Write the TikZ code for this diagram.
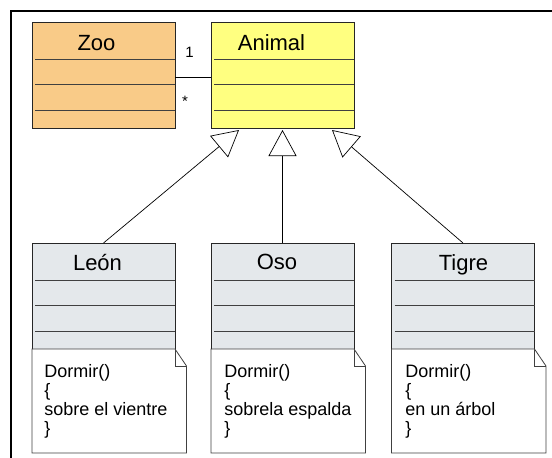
\documentclass[tikz,border=0pt]{standalone}
\usepackage{fontspec}
\setmainfont{Liberation Sans}
\usetikzlibrary{arrows.meta}
\definecolor{zoofill}{HTML}{F9CB88}
\definecolor{animalfill}{HTML}{FFFF80}
\definecolor{kindfill}{HTML}{E4E8EB}

\begin{document}
\begin{tikzpicture}[x=1pt, y=-1pt, line width=0.8pt,
  classbox/.style={draw=black!85, minimum width=143pt, minimum height=106pt, inner sep=0pt, outer sep=0pt},
  classname/.style={anchor=base, font=\fontsize{22}{26}\selectfont},
  slot/.style={draw=black!75, line width=0.9pt},
  notebody/.style={anchor=base west, align=left, inner sep=0pt, font=\fontsize{18}{19}\selectfont},
  inherit/.style={-{Triangle[open, length=26pt, width=28pt]}, line width=0.7pt}]
  \useasboundingbox (0,0) rectangle (552,458);
  % Frame
  \draw[line width=1.6pt] (11,458) -- (11,11) -- (552,11);
  % Upper classes
  \node[classbox, fill=zoofill] (zoo) at (103.5,75) {};
  \node[classname] (zooname) at (96.5,50.7) {Zoo};
  \node[classbox, fill=animalfill] (animal) at (282.5,75) {};
  \node[classname] (animalname) at (271.5,50.7) {Animal};
  % Lower classes
  \node[classbox, fill=kindfill] (leon) at (103.5,296) {};
  \node[classname] (leonname) at (97.5,270.5) {León};
  \node[classbox, fill=kindfill] (oso) at (282.5,296) {};
  \node[classname] (osoname) at (277,269.7) {Oso};
  \node[classbox, fill=kindfill] (tigre) at (463,296) {};
  \node[classname] (tigrename) at (463.5,270) {Tigre};
  % Compartments
  \foreach \c in {zoo, animal, leon, oso, tigre}
    \foreach \d in {37, 62, 88}
      \draw[slot] ([xshift=3pt, yshift=-\d pt]\c.north west) -- ([yshift=-\d pt]\c.north east);
  % Association with multiplicities
  \draw[line width=0.7pt] ([yshift=-2.7pt]zoo.east) -- ([yshift=-2.7pt]animal.west);
  \node[font=\fontsize{15}{18}\selectfont, anchor=base] (one) at (189.5,57.7) {1};
  \node[font=\fontsize{15}{18}\selectfont] (many) at (185,101.5) {*};
  % Notes
  \draw[draw=black!75, fill=white] (leon.south west) -- (leon.south east) -- ++(11.5,17) -- ++(0,87) -- ++(-154.5,0) -- cycle;
  \draw[draw=black!75] (leon.south east) -- ++(0,17) -- ++(11.5,0);
  \node[notebody] (leonnote) at (44,434) {Dormir()\\\{\\sobre el vientre\\\}};
  \draw[draw=black!75, fill=white] (oso.south west) -- (oso.south east) -- ++(11.5,17) -- ++(0,87) -- ++(-154.5,0) -- cycle;
  \draw[draw=black!75] (oso.south east) -- ++(0,17) -- ++(11.5,0);
  \node[notebody] (osonote) at (224,434) {Dormir()\\\{\\sobrela espalda\\\}};
  \draw[draw=black!75, fill=white] (tigre.south west) -- (tigre.south east) -- ++(11.5,17) -- ++(0,87) -- ++(-154.5,0) -- cycle;
  \draw[draw=black!75] (tigre.south east) -- ++(0,17) -- ++(11.5,0);
  \node[notebody] (tigrenote) at (405,434) {Dormir()\\\{\\en un árbol\\\}};
  % Inheritance
  \draw[inherit] (leon.north) -- ([xshift=28pt, yshift=-2pt]animal.south west);
  \draw[inherit] (oso.north) -- ([yshift=-2pt]oso.north |- animal.south);
  \draw[inherit] (tigre.north) -- ([xshift=-22pt, yshift=-2pt]animal.south east);
\end{tikzpicture}
\end{document}
